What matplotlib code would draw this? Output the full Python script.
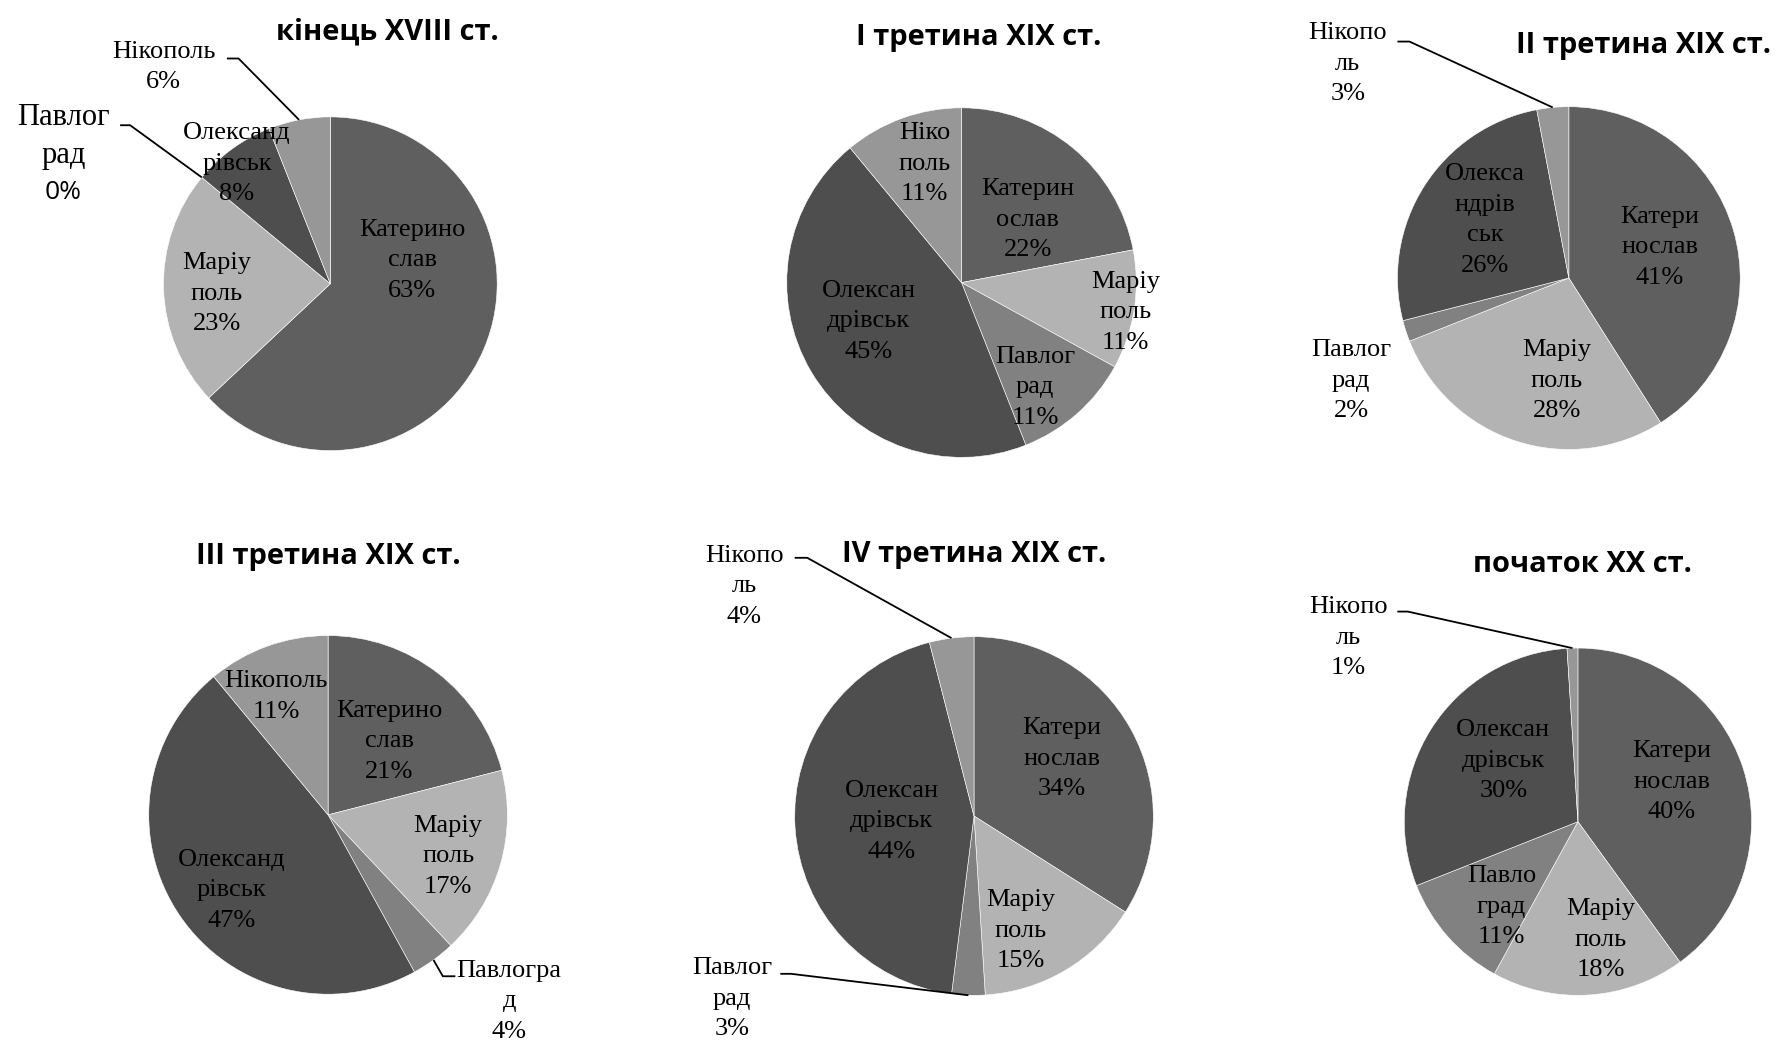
import matplotlib
matplotlib.use("Agg")
import matplotlib.pyplot as plt
import numpy as np

# cities, in wedge order (clockwise from 12 o'clock)
cities = ["Катеринослав", "Маріуполь", "Павлоград", "Олександрівськ", "Нікополь"]
city_colors = ["#5f5f5f", "#b3b3b3", "#818181", "#4e4e4e", "#979797"]

periods = [
    "кінець XVIII ст.",
    "I третина XIX ст.",
    "II третина XIX ст.",
    "III третина XIX ст.",
    "IV третина XIX ст.",
    "початок XX ст.",
]

# shares, %
shares_18c_end = [63, 23, 0, 8, 6]
shares_19c_1 = [22, 11, 11, 45, 11]
shares_19c_2 = [41, 28, 2, 26, 3]
shares_19c_3 = [21, 17, 4, 47, 11]
shares_19c_4 = [34, 15, 3, 44, 4]
shares_20c_start = [40, 18, 11, 30, 1]
all_shares = [shares_18c_end, shares_19c_1, shares_19c_2,
              shares_19c_3, shares_19c_4, shares_20c_start]

# how the labels got wrapped in each pie
wrapped = [
    ["Катерино\nслав", "Маріу\nполь", "Павлог\nрад", "Олександ\nрівськ", "Нікополь"],
    ["Катерин\nослав", "Маріу\nполь", "Павлог\nрад", "Олексан\nдрівськ", "Ніко\nполь"],
    ["Катери\nнослав", "Маріу\nполь", "Павлог\nрад", "Олекса\nндрів\nськ", "Нікопо\nль"],
    ["Катерино\nслав", "Маріу\nполь", "Павлогра\nд", "Олександ\nрівськ", "Нікополь"],
    ["Катери\nнослав", "Маріу\nполь", "Павлог\nрад", "Олексан\nдрівськ", "Нікопо\nль"],
    ["Катери\nнослав", "Маріу\nполь", "Павло\nград", "Олексан\nдрівськ", "Нікопо\nль"],
]

# ---- layout (reference pixel grid 1568 x 919) ----
W, H = 1568.0, 919.0
pie_boxes = [  # cx, cy, r
    (291, 250, 147),
    (847, 249, 154),
    (1382, 245, 151),
    (289, 718, 158),
    (858, 719, 158),
    (1390, 724, 153),
]
title_pos = [(341, 28), (862, 33), (1448, 40), (289, 490), (858, 489), (1394, 497)]

# label centre in radius units, per pie, per city
label_pos = [
    [(0.49, 0.14), (-0.68, -0.06), (-1.60, 0.77), (-0.56, 0.72), (-1.00, 1.30)],
    [(0.38, 0.36), (0.94, -0.17), (0.42, -0.60), (-0.53, -0.22), (-0.21, 0.68)],
    [(0.53, 0.18), (-0.07, -0.60), (-1.27, -0.60), (-0.49, 0.34), (-1.29, 1.25)],
    [(0.34, 0.41), (0.67, -0.23), (1.01, -1.04), (-0.54, -0.42), (-0.29, 0.66)],
    [(0.49, 0.32), (0.26, -0.64), (-1.35, -1.02), (-0.46, -0.03), (-1.28, 1.28)],
    [(0.54, 0.23), (0.13, -0.68), (-0.44, -0.49), (-0.43, 0.35), (-1.32, 1.06)],
]
# leader lines: (pie, city) -> (x_label_end, x_knee, y)
leaders = {
    (0, 2): (-1.26, -1.20, 0.95),
    (0, 4): (-0.62, -0.55, 1.35),
    (2, 4): (-1.00, -0.93, 1.38),
    (3, 2): (0.71, 0.64, -0.90),
    (4, 2): (-1.08, -1.02, -0.88),
    (4, 4): (-1.00, -0.93, 1.44),
    (5, 4): (-1.04, -0.98, 1.21),
}

serif = ["Liberation Serif", "DejaVu Serif"]
sans = ["Open Sans", "DejaVu Sans"]
LSP = 1.5

fig = plt.figure(figsize=(17.8, 10.43), dpi=100)

for i, shares in enumerate(all_shares):
    cx, cy, r = pie_boxes[i]
    ax = fig.add_axes([(cx - r) / W, 1 - (cy + r) / H, 2 * r / W, 2 * r / H])
    ax.pie(shares, colors=city_colors, startangle=90, counterclock=False,
           radius=1, wedgeprops=dict(edgecolor="white", linewidth=0.4))
    ax.set_xlim(-1, 1)
    ax.set_ylim(-1, 1)
    ax.axis("off")

    cum = np.cumsum([0] + shares[:-1])
    for j, val in enumerate(shares):
        dx, dy = label_pos[i][j]
        if i == 0 and j == 2:
            # this one came out bigger, with a sans percent, in the source
            step = 33.0 / r
            ax.text(dx, dy + step / 2, wrapped[i][j], ha="center", va="center",
                    family=serif, fontsize=22, linespacing=1.45)
            ax.text(dx, dy - step, f"{val}%", ha="center", va="center",
                    family=sans, fontsize=19)
        else:
            ax.text(dx, dy, f"{wrapped[i][j]}\n{val}%", ha="center", va="center",
                    family=serif, fontsize=19, linespacing=LSP)

        if (i, j) in leaders:
            x0, x1, yl = leaders[(i, j)]
            mid = np.deg2rad(90 - (cum[j] + val / 2) * 3.6)
            ex, ey = np.cos(mid), np.sin(mid)
            ax.plot([x0, x1, ex], [yl, yl, ey], color="black", lw=1.3,
                    clip_on=False, solid_capstyle="butt")

    tx, ty = title_pos[i]
    fig.text(tx / W, 1 - ty / H, periods[i], ha="center", va="center",
             family=sans, fontweight="bold", fontsize=21)

fig.savefig("out.png", dpi=100)
